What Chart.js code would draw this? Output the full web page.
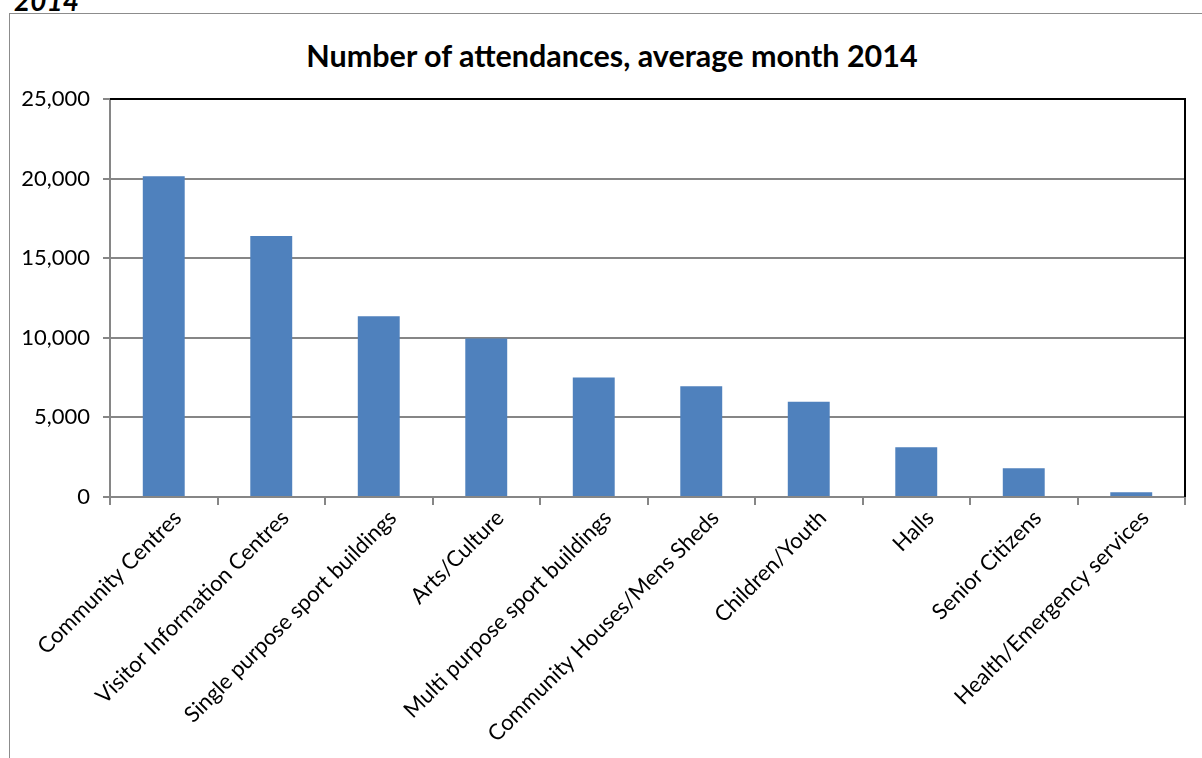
<!DOCTYPE html>
<html>
<head>
<meta charset="utf-8">
<script src="https://cdn.jsdelivr.net/npm/chart.js@4/dist/chart.umd.min.js"></script>
<style>
  html, body { margin: 0; padding: 0; background: #fff; overflow: hidden; }
  #frame { position: absolute; left: 9px; top: 13px; width: 1220px; height: 780px; border: 1px solid #8c8c8c; }
  #year { position: absolute; left: 14px; top: -17px; font: italic bold 28px Lato, sans-serif; color: #000; }
  #title { position: absolute; left: 212px; width: 800px; top: 36px; text-align: center;
           font: bold 30.5px Lato, sans-serif; color: #000; line-height: 38px; }
  #wrap { position: absolute; left: 0; top: 0; width: 1202px; height: 758px; }
</style>
</head>
<body>
<div id="frame"></div>
<div id="year">2014</div>
<div id="title">Number of attendances, average month 2014</div>
<div id="wrap"><canvas id="barChart"></canvas></div>
<script>
// data
const categories = [
  "Community Centres", "Visitor Information Centres", "Single purpose sport buildings",
  "Arts/Culture", "Multi purpose sport buildings", "Community Houses/Mens Sheds",
  "Children/Youth", "Halls", "Senior Citizens", "Health/Emergency services"
];
const attendances = [20150, 16400, 11350, 9950, 7500, 6950, 5980, 3130, 1800, 300];
const yTicks = [0, 5000, 10000, 15000, 20000, 25000];

// black border on top and right of the plot area
const plotBorder = {
  id: "plotBorder",
  afterDraw(chart) {
    const a = chart.chartArea, ctx = chart.ctx;
    ctx.save();
    ctx.strokeStyle = "#000";
    ctx.lineWidth = 2;
    ctx.beginPath();
    ctx.moveTo(a.left, a.top);
    ctx.lineTo(a.right, a.top);
    ctx.lineTo(a.right, a.bottom);
    ctx.stroke();
    ctx.restore();
  }
};

new Chart(document.getElementById("barChart"), {
  type: "bar",
  data: {
    labels: categories,
    datasets: [{
      label: "Attendances",
      data: attendances,
      backgroundColor: "#4f81bd",
      borderWidth: 0,
      barPercentage: 1,
      categoryPercentage: 0.39
    }]
  },
  options: {
    responsive: true,
    maintainAspectRatio: false,
    animation: false,
    layout: { padding: { left: 0, right: 17, top: 99, bottom: 0 } },
    plugins: {
      legend: { display: false },
      tooltip: { enabled: false },
      title: { display: false }
    },
    scales: {
      x: {
        grid: { display: true, drawOnChartArea: false, offset: true, color: "#868686", tickLength: 8, lineWidth: 2 },
        border: { color: "#868686", width: 2 },
        ticks: {
          color: "#000",
          font: { family: "Lato", size: 22 },
          minRotation: 45,
          maxRotation: 45,
          labelOffset: 14,
          padding: 0
        },
        afterFit(scale) { scale.height = 261; }
      },
      y: {
        min: 0,
        max: 25000,
        afterBuildTicks(scale) { scale.ticks = yTicks.map(v => ({ value: v })); },
        grid: { color: "#868686", lineWidth: 2, tickLength: 7 },
        border: { color: "#868686", width: 2 },
        ticks: {
          color: "#000",
          font: { family: "Lato", size: 22 },
          padding: 13,
          callback: v => v.toLocaleString("en-US")
        },
        afterFit(scale) { scale.width = 110; }
      }
    }
  },
  plugins: [plotBorder]
});
</script>
</body>
</html>
